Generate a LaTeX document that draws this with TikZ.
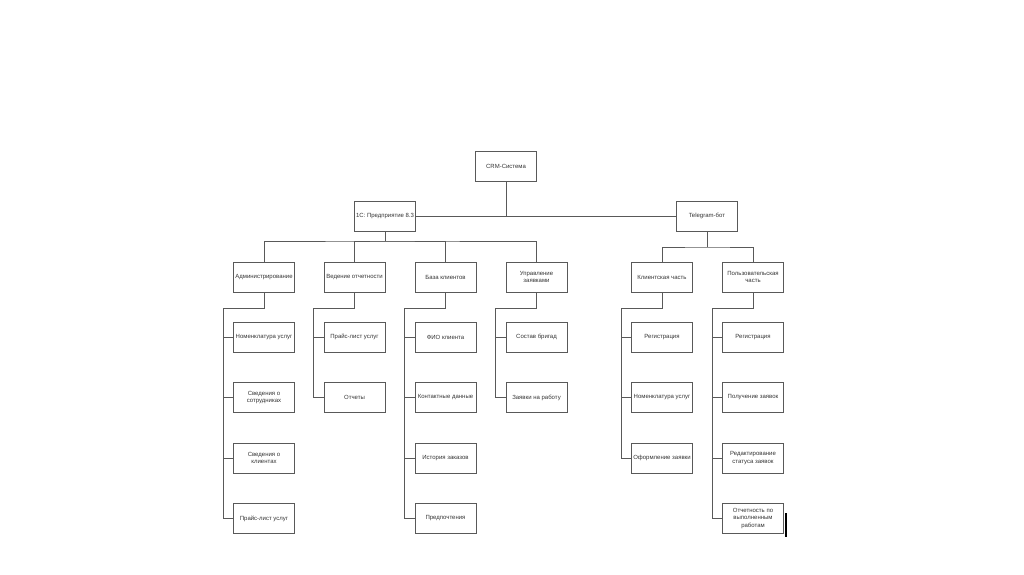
\documentclass[tikz,border=0pt]{standalone}
\usepackage{fontspec}
\setmainfont{Liberation Sans}
\usepackage{tikz}

\begin{document}
\begin{tikzpicture}[x=1pt,y=-1pt,
    box/.style={draw=black!65, line width=0.7pt, text=black!80, minimum width=61pt, minimum height=30pt, inner sep=1pt, align=center, font=\fontsize{6}{7.5}\selectfont},
    link/.style={draw=black!65, line width=0.7pt}]
    \useasboundingbox (0,0) rectangle (1024,574);
    % top levels
    \node[box] (crm) at (506,166) {CRM-Система};
    \node[box] (onec) at (385,216) {1С: Предприятие 8.3};
    \node[box] (tg) at (707,216) {Telegram-бот};
    \node[box] (adm) at (264,277) {Администрирование};
    \node[box] (rep) at (354.5,277) {Ведение отчетности};
    \node[box] (cli) at (445.5,277) {База клиентов};
    \node[box] (req) at (536.5,277) {Управление\\заявками};
    \node[box] (cpart) at (662,277) {Клиентская часть};
    \node[box] (upart) at (753,277) {Пользовательская\\часть};
    % leaves
    \foreach \t [count=\i] in {Номенклатура услуг, Сведения о\\сотрудниках, Сведения о\\клиентах, Прайс-лист услуг}
        \node[box] (adm-\i) at (264,276.5+60.5*\i) {\t};
    \foreach \t [count=\i] in {Прайс-лист услуг, Отчеты}
        \node[box] (rep-\i) at (354.5,276.5+60.5*\i) {\t};
    \foreach \t [count=\i] in {ФИО клиента, Контактные данные, История заказов, Предпочтения}
        \node[box] (cli-\i) at (445.5,276.5+60.5*\i) {\t};
    \foreach \t [count=\i] in {Состав бригад, Заявки на работу}
        \node[box] (req-\i) at (536.5,276.5+60.5*\i) {\t};
    \foreach \t [count=\i] in {Регистрация, Номенклатура услуг, Оформление заявки}
        \node[box] (cpart-\i) at (662,276.5+60.5*\i) {\t};
    \foreach \t [count=\i] in {Регистрация, Получение заявок, Редактирование\\статуса заявок, Отчетность по\\выполненным\\работам}
        \node[box] (upart-\i) at (753,276.5+60.5*\i) {\t};
    % links
    \coordinate (onecbus) at (385,241);
    \coordinate (tgbus) at (707,247);
    \draw[link] (onec) -- (tg);
    \draw[link] (crm) -- (crm |- onec);
    \draw[link] (onec) -- (onecbus);
    \draw[link] (adm) |- (onecbus) -| (req);
    \draw[link] (rep) |- (onecbus) -| (cli);
    \draw[link] (tg) -- (tgbus);
    \draw[link] (cpart) |- (tgbus) -| (upart);
    \foreach \p/\n in {adm/4, rep/2, cli/4, req/2, cpart/3, upart/4} {
        \draw[link] (\p.south) -- ++(0,16) -| ([xshift=-10pt]\p-\n.west) -- (\p-\n.west);
        \foreach \i in {1,...,\n}
            \draw[link] ([xshift=-10pt]\p-\i.west) -- (\p-\i.west);
    }
    \draw[line width=1.5pt] ([xshift=2pt,yshift=-10pt]upart-4.north east) -- ([xshift=2pt,yshift=-3pt]upart-4.south east);
\end{tikzpicture}
\end{document}
